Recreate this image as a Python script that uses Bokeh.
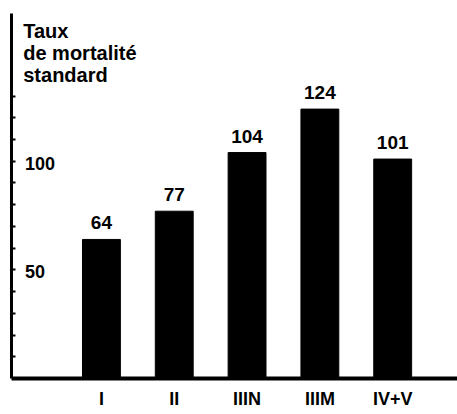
from bokeh.plotting import figure
from bokeh.models import Range1d, FixedTicker, ColumnDataSource
from bokeh.core.properties import value
from bokeh.embed import file_html
from bokeh.resources import INLINE

categories = ["I", "II", "IIIN", "IIIM", "IV+V"]
rates = [64, 77, 104, 124, 101]
y_label_values = [50, 100]
y_label_texts = ["50", "100"]
y_tick_values = [10, 20, 30, 40, 50, 60, 70, 80, 90, 100, 110, 120, 130]
title_lines = ["Taux", "de mortalité", "standard"]

FONT = value("Liberation Sans")
W, H = 457, 414
Y_END = 168
X_START, X_END = -1.235, 4.89

p = figure(width=W, height=H, output_backend="svg", toolbar_location=None,
           x_range=Range1d(X_START, X_END), y_range=Range1d(0, Y_END),
           min_border_left=11, min_border_right=0, min_border_top=13,
           min_border_bottom=36)
p.background_fill_color = "white"
p.border_fill_color = "white"
p.outline_line_color = None
p.grid.visible = False

xs = list(range(len(categories)))
src = ColumnDataSource(dict(x=xs, top=rates, lab=[str(r) for r in rates]))
p.vbar(x="x", top="top", bottom=0, width=0.52, source=src,
       fill_color="black", line_color="black")

p.text(x="x", y="top", text="lab", source=src, text_align="center",
       text_baseline="bottom", y_offset=-10, text_font=FONT,
       text_font_size="19px", text_font_style="bold", text_color="black")

# y tick labels drawn inside the frame
p.text(x=[-1.05] * len(y_label_values), y=y_label_values, text=y_label_texts,
       text_align="left", text_baseline="middle", y_offset=2, text_font=FONT,
       text_font_size="18px", text_font_style="bold", text_color="black")

# title lines
line_step = 10.0
p.text(x=[-1.074] * len(title_lines),
       y=[159.8 - i * line_step for i in range(len(title_lines))],
       text=title_lines, text_align="left", text_baseline="alphabetic",
       text_font=FONT, text_font_size="20px", text_font_style="bold",
       text_color="black")

xa = p.xaxis[0]
xa.ticker = FixedTicker(ticks=xs)
xa.major_label_overrides = {i: c for i, c in enumerate(categories)}
xa.axis_line_width = 4
xa.axis_line_color = "black"
xa.major_tick_in = 0
xa.major_tick_out = 0
xa.minor_tick_line_color = None
xa.major_label_standoff = 10
xa.major_label_text_font = "Liberation Sans"
xa.major_label_text_font_size = "18px"
xa.major_label_text_font_style = "bold"
xa.major_label_text_color = "black"

ya = p.yaxis[0]
ya.ticker = FixedTicker(ticks=y_tick_values)
ya.major_label_overrides = {t: "" for t in y_tick_values}
ya.axis_line_width = 3
ya.axis_line_color = "black"
ya.major_tick_in = 4
ya.major_tick_out = 0
ya.major_tick_line_width = 2
ya.major_tick_line_color = "black"
ya.minor_tick_line_color = None
ya.major_label_standoff = 0

open("out.html", "w").write(file_html(p, INLINE))
